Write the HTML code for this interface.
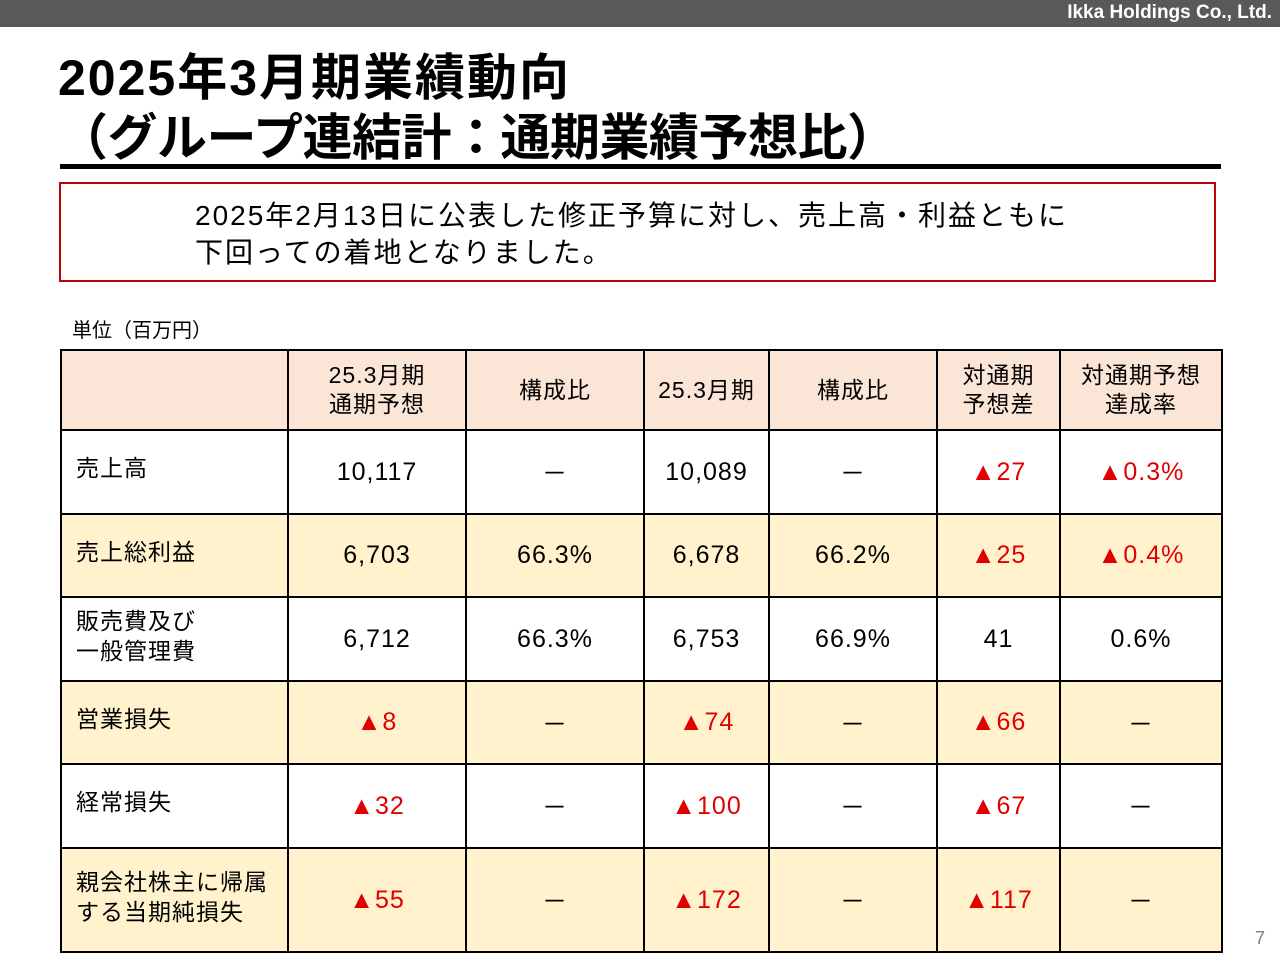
<!DOCTYPE html>
<html><head><meta charset="utf-8">
<style>
body{margin:0;width:1280px;height:960px;position:relative;background:#fff;font-family:"Liberation Sans","Noto Sans CJK JP",sans-serif;overflow:hidden}
.abs{position:absolute}
#bar{left:0;top:0;width:1280px;height:27px;background:#595959}
#co{right:8px;top:2px;color:#fff;font-weight:bold;font-size:19px}
.t{left:58px;font-size:50px;font-weight:bold;color:#000;white-space:nowrap;letter-spacing:2px}
#rule{left:60px;top:164px;width:1161px;height:5px;background:#000}
#box{left:59px;top:182px;width:1153px;height:96px;border:2px solid #c00000}
#msg{left:195px;top:197px;font-size:28px;line-height:37px;color:#000;letter-spacing:2px;white-space:nowrap}
#unit{left:72px;top:314px;font-size:20px}
table{position:absolute;left:60px;top:349px;border-collapse:collapse;table-layout:fixed}
td{border:2px solid #000;font-size:25px;text-align:center;padding:0;color:#000;letter-spacing:1px}
td.l{text-align:left;padding-left:14px;font-size:23px;line-height:30px;vertical-align:top;padding-top:22px}
tr.h td{background:#fbe5d6;font-size:23px;line-height:29px}
tr.y td{background:#fff2cc}
.r{color:#e00000}
#pg{left:1255px;top:928px;color:#7f7f7f;font-size:18px}
</style></head><body>
<div id="bar" class="abs"><span id="co" class="abs">Ikka Holdings Co., Ltd.</span></div>
<div class="abs t" style="top:38px">2025年3月期業績動向</div>
<div class="abs t" style="top:98px;letter-spacing:-0.5px">（グループ連結計：通期業績予想比）</div>
<div id="rule" class="abs"></div>
<div id="box" class="abs"></div>
<div id="msg" class="abs">2025年2月13日に公表した修正予算に対し、売上高・利益ともに<br>下回っての着地となりました。</div>
<div id="unit" class="abs">単位（百万円）</div>
<table>
<colgroup><col style="width:227px"><col style="width:178px"><col style="width:178px"><col style="width:125px"><col style="width:168px"><col style="width:123px"><col style="width:162px"></colgroup>
<tr class="h" style="height:80px"><td></td><td>25.3月期<br>通期予想</td><td>構成比</td><td>25.3月期</td><td>構成比</td><td>対通期<br>予想差</td><td>対通期予想<br>達成率</td></tr>
<tr style="height:84px"><td class="l">売上高</td><td>10,117</td><td>－</td><td>10,089</td><td>－</td><td class="r">▲27</td><td class="r">▲0.3%</td></tr>
<tr class="y" style="height:83px"><td class="l">売上総利益</td><td>6,703</td><td>66.3%</td><td>6,678</td><td>66.2%</td><td class="r">▲25</td><td class="r">▲0.4%</td></tr>
<tr style="height:84px"><td class="l" style="padding-top:8px">販売費及び<br>一般管理費</td><td>6,712</td><td>66.3%</td><td>6,753</td><td>66.9%</td><td>41</td><td>0.6%</td></tr>
<tr class="y" style="height:83px"><td class="l">営業損失</td><td class="r">▲8</td><td>－</td><td class="r">▲74</td><td>－</td><td class="r">▲66</td><td>－</td></tr>
<tr style="height:84px"><td class="l">経常損失</td><td class="r">▲32</td><td>－</td><td class="r">▲100</td><td>－</td><td class="r">▲67</td><td>－</td></tr>
<tr class="y" style="height:104px"><td class="l" style="padding-top:18px">親会社株主に帰属<br>する当期純損失</td><td class="r">▲55</td><td>－</td><td class="r">▲172</td><td>－</td><td class="r">▲117</td><td>－</td></tr>
</table>
<div id="pg" class="abs">7</div>
</body></html>
